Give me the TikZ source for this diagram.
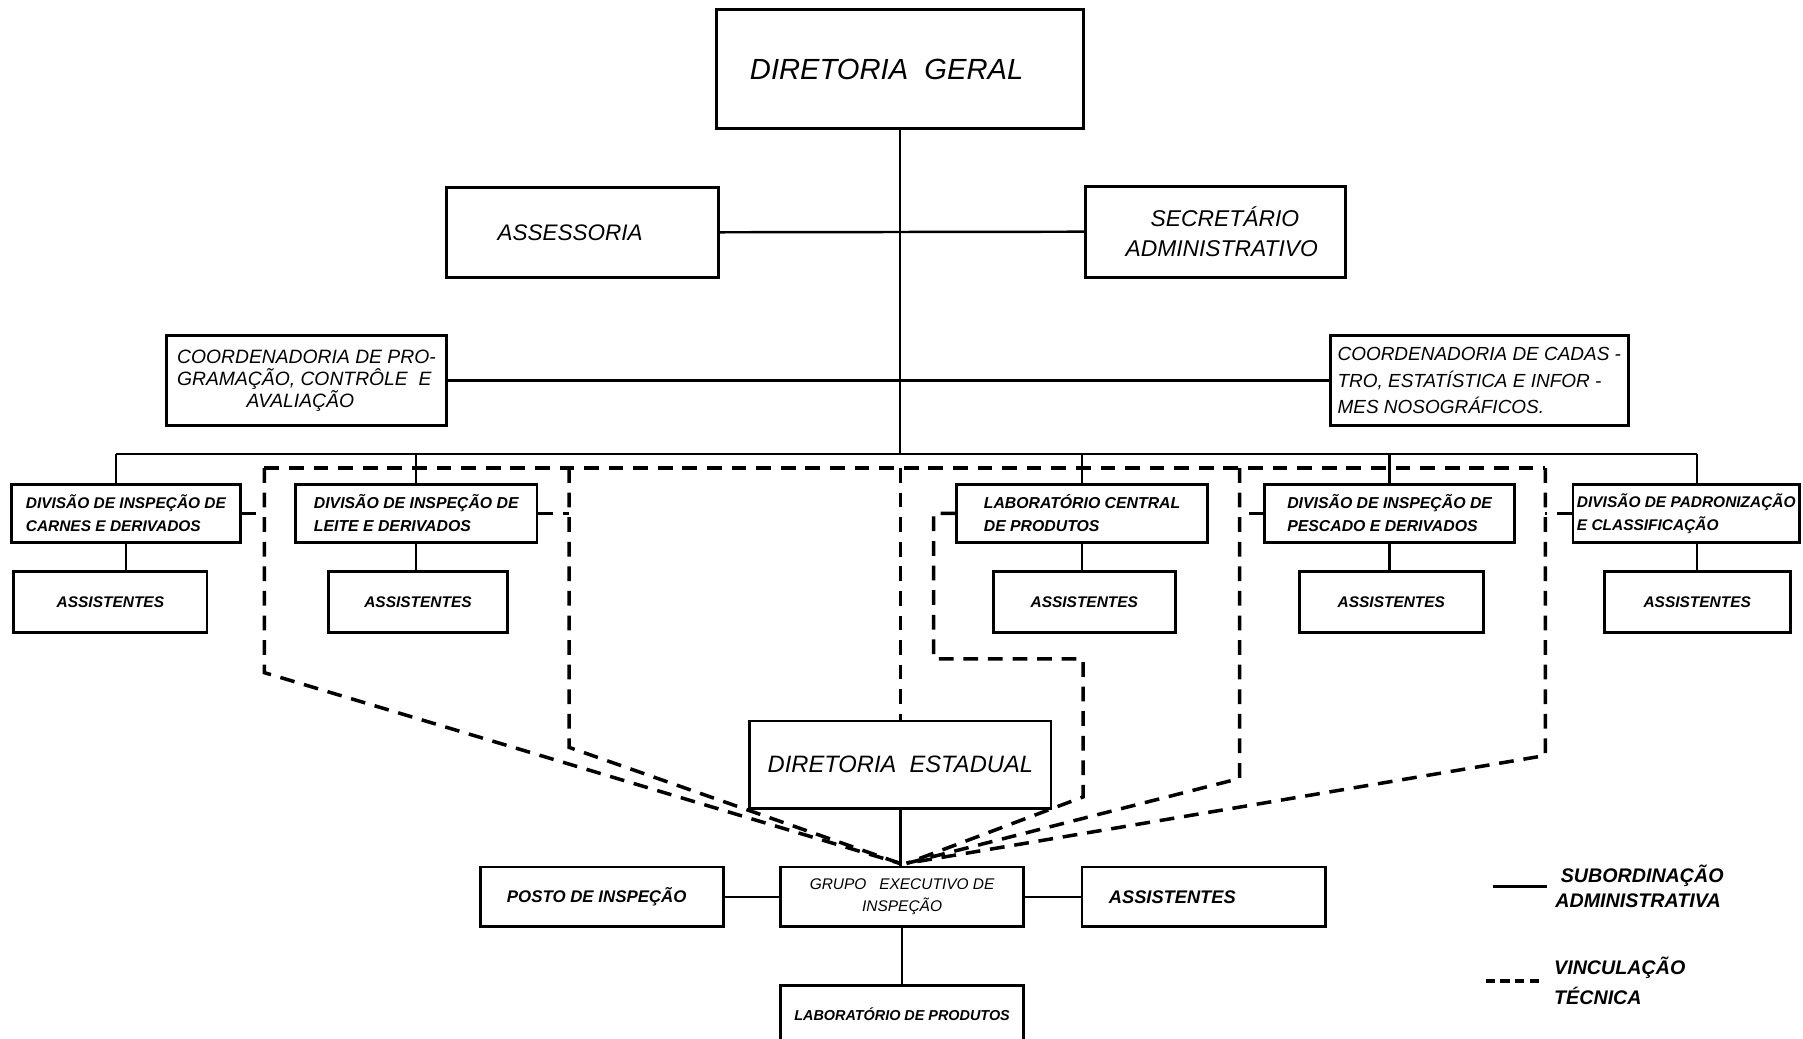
\documentclass[tikz,border=0pt]{standalone}
\usepackage{fontspec}
\setmainfont{Liberation Sans}
\usetikzlibrary{calc}
\newcommand{\fsz}[2]{\fontsize{#1}{#2}\selectfont\itshape}
\newcommand{\fszb}[2]{\fontsize{#1}{#2}\selectfont\itshape\bfseries}
\begin{document}
\begin{tikzpicture}[x=0.0115cm, y=-0.0115cm,
  box/.style args={#1/#2/#3/#4}{draw, line width=0.8pt, inner sep=0pt,
     at={({(#1+#3)/2},{(#2+#4)/2})},
     minimum width={(#3-#1)*0.0115cm}, minimum height={(#4-#2)*0.0115cm}},
  sol/.style={line width=0.7pt},
  vt/.style={line width=1pt, dash pattern=on 4.2pt off 2.8pt},
  lab/.style={inner sep=0pt, align=left}]
\fill[white] (0,0) rectangle (1568,903);
\useasboundingbox (0,0) rectangle (1568,903);

% ---- boxes ----
\node[box=623/8/942/112, font=\fsz{8.3}{10}] (dg) {DIRETORIA\ \ GERAL\hspace*{7.5pt}};
\node[box=388/163/625/241, font=\fsz{6.4}{8}] (assess) {ASSESSORIA\hspace*{7pt}};
\node[box=944/162/1170/241, align=center, font=\fsz{6.5}{8.8}] (secr) {\ \ \ SECRETÁRIO\\ \ \ ADMINISTRATIVO};
\node[box=145/292/388/370, align=left, font=\fsz{5.5}{6.3}] (cpro) {COORDENADORIA DE PRO-\\GRAMAÇÃO, CONTRÔLE \ E\\\hspace*{3.6em}AVALIAÇÃO};
\node[box=1157/292/1416/370, align=left, font=\fsz{5.4}{7.5}] (ccad) {COORDENADORIA DE CADAS -\\TRO, ESTATÍSTICA E INFOR -\\MES NOSOGRÁFICOS.};

\node[box=10/421/209/472, align=left, font=\fszb{4.4}{6.5}] (carnes) {DIVISÃO DE INSPEÇÃO DE\\CARNES E DERIVADOS};
\node[box=257/421/467/472, align=left, font=\fszb{4.5}{6.5}] (leite) {DIVISÃO DE INSPEÇÃO DE\\LEITE E DERIVADOS};
\node[box=832/421/1050/472, align=left, font=\fszb{4.5}{6.5}] (labc) {LABORATÓRIO CENTRAL\\DE PRODUTOS};
\node[box=1100/421/1317/472, align=left, font=\fszb{4.5}{6.5}] (pesc) {DIVISÃO DE INSPEÇÃO DE\\PESCADO E DERIVADOS};
\node[box=1368/421/1565/472, align=left, font=\fszb{4.4}{6.5}] (padr) {DIVISÃO DE PADRONIZAÇÃO\\E CLASSIFICAÇÃO};

\node[box=12/497/180/550, font=\fszb{4.4}{6}] (asA) {ASSISTENTES};
\node[box=286/497/441/550, font=\fszb{4.4}{6}] (asB) {ASSISTENTES};
\node[box=864/497/1022/550, font=\fszb{4.4}{6}] (asC) {ASSISTENTES};
\node[box=1130/497/1290/550, font=\fszb{4.4}{6}] (asD) {ASSISTENTES};
\node[box=1395/497/1557/550, font=\fszb{4.4}{6}] (asE) {ASSISTENTES};

\node[box=652/627/914/703, font=\fsz{6.75}{9}] (de) {DIRETORIA\ \ ESTADUAL};
\node[box=679/754/890/806, align=center, font=\fsz{4.4}{6.2}] (grupo) {GRUPO\ \ \ EXECUTIVO DE\\INSPEÇÃO};
\node[box=418/754/629/806, font=\fszb{4.8}{6}] (posto) {POSTO DE INSPEÇÃO\hspace*{3pt}};
\node[box=941/754/1153/806, font=\fszb{5.2}{6}] (asG) {ASSISTENTES\hspace*{18pt}};
\node[box=679/857/890/912, font=\fszb{4.1}{6}] (labp) {\raisebox{1.5pt}{LABORATÓRIO DE PRODUTOS}};

% ---- solid connectors (subordinacao administrativa) ----
\coordinate (busL) at (101,395);
\coordinate (busR) at (1476,395);
\draw[sol] (dg.south) -- (dg.south |- busL);
\draw[sol] (assess.east) -- (secr.west);
\draw[sol] (cpro.east) -- (ccad.west);
\draw[sol] (busL) -- (busR);
\draw[sol] (busL) -- (busL |- carnes.north);
\draw[sol] (leite.north |- busL) -- (leite.north);
\draw[sol] (labc.north |- busL) -- (labc.north);
\draw[sol] (pesc.north |- busL) -- (pesc.north);
\draw[sol] (busR) -- (busR |- padr.north);
\draw[sol] (carnes.south) -- (carnes.south |- asA.north);
\draw[sol] (leite.south) -- (leite.south |- asB.north);
\draw[sol] (labc.south) -- (labc.south |- asC.north);
\draw[sol] (pesc.south) -- (pesc.south |- asD.north);
\draw[sol] (busR |- padr.south) -- (busR |- asE.north);
\draw[sol] (de.south) -- (de.south |- grupo.north);
\draw[sol] (posto.east) -- (grupo.west);
\draw[sol] (grupo.east) -- (asG.west);
\draw[sol] (grupo.south) -- (grupo.south |- labp.north);

% ---- dashed connectors (vinculacao tecnica) ----
\coordinate (d1) at (230,407);
\coordinate (d1b) at (230,585);
\coordinate (d2) at (495,407);
\coordinate (d2b) at (495,650);
\coordinate (d4) at (1078,407);
\coordinate (d4b) at (1078,677);
\coordinate (d5) at (1344,407);
\coordinate (d5b) at (1344,657);
\coordinate (labL) at (812,573);
\coordinate (labR) at (942,573);
\coordinate (labB) at (942,693);
\coordinate (convL) at ($(grupo.north)+(-2,-2)$);
\coordinate (convR) at ($(grupo.north)+(4,-2)$);
\draw[vt] (d1) -- (d5);
\draw[vt] (carnes.east) -- (carnes.east -| d1);
\draw[vt] (leite.east) -- (leite.east -| d2);
\draw[vt] (pesc.west) -- (pesc.west -| d4);
\draw[vt] (padr.west) -- (padr.west -| d5);
\draw[vt] (d1) -- (d1b) -- (convL);
\draw[vt] (d2) -- (d2b) -- (convL);
\draw[vt] (de.north |- d1) -- (de.north);
\draw[vt] (labc.west) -- (labc.west -| labL) -- (labL) -- (labR) -- (labB) -- (convR);
\draw[vt] (d4) -- (d4b) -- (convR);
\draw[vt] (d5) -- (d5b) -- (convR);

% ---- legend ----
\coordinate (lgA1) at (1298,771);
\coordinate (lgA2) at (1345,771);
\coordinate (lgB1) at (1292,853);
\coordinate (lgB2) at (1343,853);
\draw[line width=1.1pt] (lgA1) -- (lgA2);
\draw[vt, line width=1.2pt, dash pattern=on 2.6pt off 1.6pt] (lgB1) -- (lgB2);
\node[lab, anchor=west, font=\fszb{5.6}{7.2}] (lgAt) at (1352,771) {\ SUBORDINAÇÃO\\ADMINISTRATIVA};
\node[lab, anchor=west, font=\fszb{5.6}{8.4}] (lgBt) at (1351,853) {VINCULAÇÃO\\TÉCNICA};
\end{tikzpicture}
\end{document}
